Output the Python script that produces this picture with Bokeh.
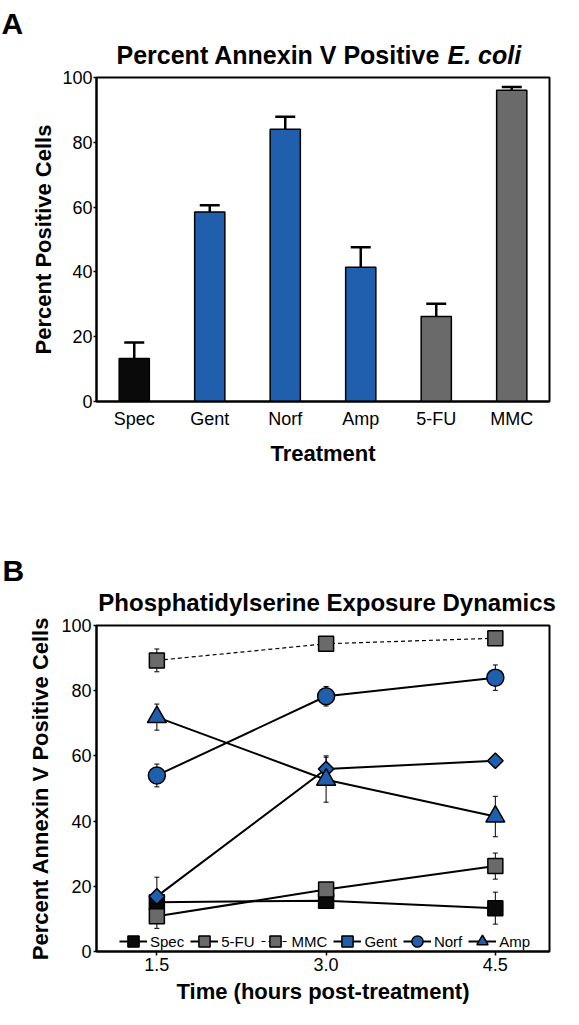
from bokeh.plotting import figure
from bokeh.models import (Range1d, FixedTicker, NumeralTickFormatter, Label,
                          Legend, LegendItem, ColumnDataSource)
from bokeh.layouts import column
from bokeh.embed import file_html
from bokeh.resources import INLINE

# ---------------- data: panel A ----------------
treatments = ["Spec", "Gent", "Norf", "Amp", "5-FU", "MMC"]
pct_positive = [13.3, 58.5, 84.0, 41.4, 26.2, 96.1]
pct_err = [4.9, 2.1, 3.9, 6.2, 4.0, 1.0]
y_ticks = [0, 20, 40, 60, 80, 100]

# ---------------- data: panel B ----------------
hours = [1.5, 3.0, 4.5]
spec_vals = [15.1, 15.6, 13.3]
spec_err = [1.0, 1.0, 4.9]
fu_vals = [10.8, 19.0, 26.2]
fu_err = [3.7, 1.5, 4.0]
mmc_vals = [89.3, 94.4, 96.1]
mmc_err = [3.5, 0.8, 1.0]
gent_vals = [16.9, 56.0, 58.5]
gent_err = [5.9, 4.0, 0.5]
norf_vals = [54.0, 78.3, 84.0]
norf_err = [3.5, 3.0, 3.9]
amp_vals = [71.9, 52.7, 41.4]
amp_err = [4.0, 6.9, 6.2]
time_ticks = [1.5, 3.0, 4.5]

# ---------------- styles ----------------
FONT = "Liberation Sans"
BLUE = "#1f5fae"
GRAY = "#6a6a6a"
BLACK = "#0a0a0a"
bar_colors = {"Spec": BLACK, "Gent": BLUE, "Norf": BLUE, "Amp": BLUE,
              "5-FU": GRAY, "MMC": GRAY}
W = 563


def style_axes(p):
    p.outline_line_color = "black"
    p.outline_line_width = 2
    p.xgrid.grid_line_color = None
    p.ygrid.grid_line_color = None
    for ax in (p.xaxis[0], p.yaxis[0]):
        ax.axis_line_width = 2
        ax.axis_line_color = "black"
        ax.major_tick_line_width = 1.5
        ax.major_tick_in = 0
        ax.minor_tick_line_color = None
        ax.major_label_text_font = FONT
        ax.major_label_text_font_size = "18px"
        ax.major_label_text_color = "black"
        ax.axis_label_text_font = FONT
        ax.axis_label_text_font_style = "bold"
        ax.axis_label_text_font_size = "22px"
        ax.axis_label_text_color = "black"


def canvas_label(x, y, txt, size, style="bold", align="left"):
    return Label(x=x, y=y, x_units="canvas", y_units="canvas", text=txt,
                 text_font=FONT, text_font_style=style, text_font_size=size,
                 text_color="black", text_align=align, text_baseline="alphabetic")


# ================= panel A =================
p1 = figure(width=W, height=512, x_range=treatments, y_range=Range1d(0, 100),
            output_backend="svg", toolbar_location=None,
            min_border_left=96, min_border_right=14,
            min_border_top=77, min_border_bottom=111)
style_axes(p1)
src1 = ColumnDataSource(dict(
    x=treatments, top=pct_positive,
    hi=[v + e for v, e in zip(pct_positive, pct_err)],
    color=[bar_colors[t] for t in treatments]))
p1.vbar(x="x", top="top", width=0.4, source=src1, fill_color="color",
        line_color="black", line_width=1.5)
p1.segment(x0="x", y0="top", x1="x", y1="hi", source=src1,
           line_color="black", line_width=2.5)
p1.scatter(x="x", y="hi", source=src1, marker="dash", size=20,
           line_color="black", line_width=2.5)

p1.yaxis.ticker = FixedTicker(ticks=y_ticks)
p1.yaxis.major_tick_out = 3
p1.yaxis.major_label_standoff = 1
p1.yaxis.axis_label = "Percent Positive Cells"
p1.yaxis.axis_label_standoff = 3
p1.xaxis.major_tick_out = 0
p1.xaxis.major_tick_line_color = None
p1.xaxis.major_label_standoff = 7
p1.xaxis.axis_label = "Treatment"
p1.xaxis.axis_label_standoff = 9

p1.add_layout(canvas_label(116, 54.5, "Percent Annexin V Positive ", "25px"), "above")
p1.add_layout(canvas_label(447, 54.5, "E. coli", "25px", style="bold italic"), "above")
p1.add_layout(canvas_label(1, 22.7, "A", "30px"), "below")

# ================= panel B =================
p2 = figure(width=W, height=497, x_range=Range1d(0.965, 4.98), y_range=Range1d(0, 100),
            output_backend="svg", toolbar_location=None,
            min_border_left=96, min_border_right=14,
            min_border_top=113, min_border_bottom=58)
style_axes(p2)
p2.yaxis.ticker = FixedTicker(ticks=y_ticks)
p2.yaxis.major_tick_out = 3
p2.yaxis.major_label_standoff = 2
p2.yaxis.axis_label = "Percent Annexin V Positive Cells"
p2.yaxis.axis_label_standoff = 5
p2.xaxis.ticker = FixedTicker(ticks=time_ticks)
p2.xaxis.formatter = NumeralTickFormatter(format="0.0")
p2.xaxis.major_tick_out = 4
p2.xaxis.major_label_standoff = 2
p2.xaxis.axis_label = "Time (hours post-treatment)"
p2.xaxis.axis_label_standoff = 5

series = [
    ("Spec", spec_vals, spec_err, "square", BLACK, 15, "solid", 0.0, 2),
    ("5-FU", fu_vals, fu_err, "square", GRAY, 15, "solid", 0.0, 2),
    ("MMC", mmc_vals, mmc_err, "square", GRAY, 15, "4 3", 0.0, 1.2),
    ("Gent", gent_vals, gent_err, "square", BLUE, 11, "solid", 0.785398, 2),
    ("Norf", norf_vals, norf_err, "circle", BLUE, 17, "solid", 0.0, 2),
    ("Amp", amp_vals, amp_err, "triangle", BLUE, 19, "solid", 0.0, 2),
]

sources = []
for name, vals, errs, *_ in series:
    src = ColumnDataSource(dict(
        x=hours, y=vals,
        lo=[v - e for v, e in zip(vals, errs)],
        hi=[v + e for v, e in zip(vals, errs)]))
    sources.append(src)
    p2.segment(x0="x", y0="lo", x1="x", y1="hi", source=src,
               line_color="black", line_width=1)
    p2.scatter(x="x", y="lo", source=src, marker="dash", size=5,
               line_color="black", line_width=1)
    p2.scatter(x="x", y="hi", source=src, marker="dash", size=5,
               line_color="black", line_width=1)

items = []
for (name, vals, errs, marker, color, size, dash, angle, lw), src in zip(series, sources):
    ln = p2.line(x="x", y="y", source=src, line_color="black", line_width=lw,
                 line_dash=dash)
    mk = p2.scatter(x="x", y="y", source=src, marker=marker, size=size,
                    angle=angle, fill_color=color, line_color="black",
                    line_width=1.5)
    items.append(LegendItem(label=name, renderers=[ln, mk]))

legend = Legend(items=items, location=(23, -5), orientation="horizontal",
                glyph_width=28, glyph_height=30, label_standoff=3, spacing=6,
                padding=0, margin=0, border_line_color=None,
                background_fill_alpha=0, label_text_font=FONT,
                label_text_font_size="15px", label_text_color="black")
p2.add_layout(legend)

p2.add_layout(canvas_label(326.6, 90, "Phosphatidylserine Exposure Dynamics", "24px",
                           align="center"), "above")
p2.add_layout(canvas_label(2, 58.3, "B", "30px"), "above")

layout = column(p1, p2, spacing=0)
open("out.html", "w").write(file_html(layout, INLINE))
